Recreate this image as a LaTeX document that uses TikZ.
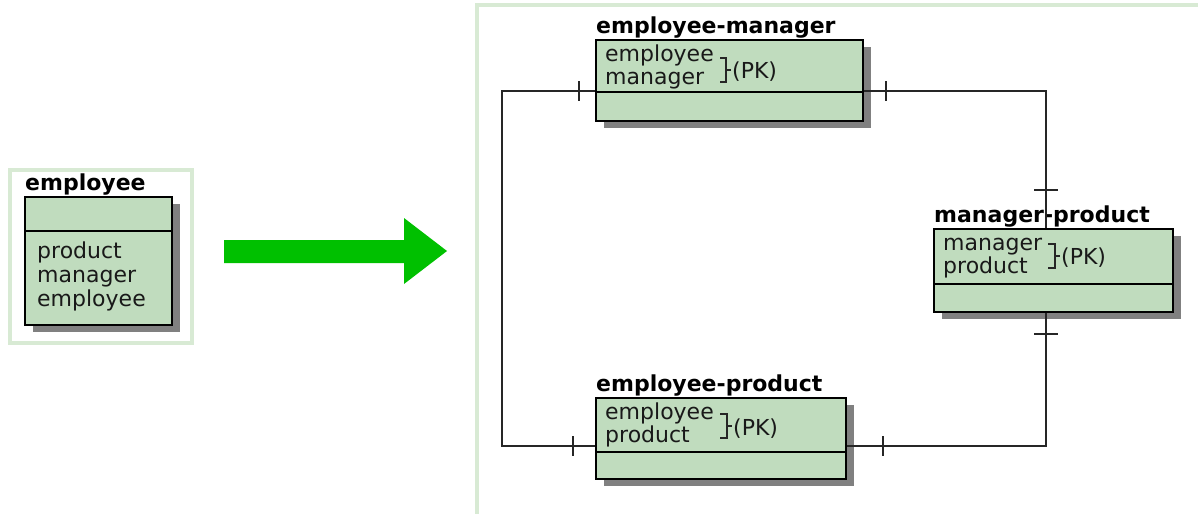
\documentclass[tikz,border=0pt]{standalone}
\usepackage{fontspec}
\setmainfont{DejaVu Sans}
\usetikzlibrary{shadows}

\definecolor{boxgreen}{RGB}{192,220,190}
\definecolor{panelgreen}{RGB}{216,234,212}
\definecolor{arrowgreen}{RGB}{0,192,0}

\tikzset{
  entity/.style={draw=black, line width=1.6pt, fill=boxgreen, anchor=north west, inner sep=0pt,
    drop shadow={shadow xshift=8pt, shadow yshift=-7pt, fill=black!50, opacity=1}},
  title/.style={anchor=base west, inner sep=0pt, font=\fontsize{22}{26}\selectfont\bfseries},
  attr/.style={anchor=base west, inner sep=0pt, font=\fontsize{22}{26}\selectfont, text=black!90},
  divider/.style={line width=1.4pt},
  link/.style={line width=1.2pt, black!85},
  panel/.style={draw=panelgreen, line width=3.5pt}
}

\begin{document}
\begin{tikzpicture}[x=1pt,y=-1pt]
\useasboundingbox (0,0) rectangle (1198,514);

% frames
\draw[panel] (10,170) rectangle (192,343);
\draw[panel] (1198,5) -- (477,5) -- (477,514);

% the big arrow
\fill[arrowgreen] (224,240) -- (404,240) -- (404,218) -- (447,251) -- (404,284) -- (404,263) -- (224,263) -- cycle;

% employee
\node[entity, minimum width=147pt, minimum height=128pt] (emp) at (24,196) {};
\node[title] (empt) at (25,190) {employee};
\draw[divider] ([yshift=-35pt]emp.north west) -- ([yshift=-35pt]emp.north east);
\node[attr] (empa) at (37,258) {product};
\node[attr] (empb) at (37,282) {manager};
\node[attr] (empc) at (37,306) {employee};

% employee-manager
\node[entity, minimum width=267pt, minimum height=81pt] (em) at (595,39) {};
\node[title] (emt) at (596,33) {employee-manager};
\draw[divider] ([yshift=-53pt]em.north west) -- ([yshift=-53pt]em.north east);
\node[attr] (ema) at (605,61) {employee};
\node[attr] (emb) at (605,84) {manager};
\draw[link] (720,58) -- (726,58) -- (726,82) -- (720,82) (726,70) -- (731,70);
\node[attr] (emk) at (732,78) {(PK)};

% manager-product
\node[entity, minimum width=239pt, minimum height=83pt] (mp) at (933,228) {};
\node[title] (mpt) at (934,222) {manager-product};
\draw[divider] ([yshift=-56pt]mp.north west) -- ([yshift=-56pt]mp.north east);
\node[attr] (mpa) at (943,250) {manager};
\node[attr] (mpb) at (943,273) {product};
\draw[link] (1048,244) -- (1055,244) -- (1055,268) -- (1048,268) (1055,256) -- (1060,256);
\node[attr] (mpk) at (1061,264) {(PK)};

% employee-product
\node[entity, minimum width=250pt, minimum height=81pt] (ep) at (595,397) {};
\node[title] (ept) at (596,391) {employee-product};
\draw[divider] ([yshift=-55pt]ep.north west) -- ([yshift=-55pt]ep.north east);
\node[attr] (epa) at (605,419) {employee};
\node[attr] (epb) at (605,442) {product};
\draw[link] (720,414) -- (727,414) -- (727,438) -- (720,438) (727,426) -- (732,426);
\node[attr] (epk) at (733,435) {(PK)};

% relationships
\draw[link] (em.north west |- 0,91) -| (502,446) -- (ep.north west |- 0,446);
\draw[link] (em.north east |- 0,91) -| (1046,0 |- mp.north);
\draw[link] (1046,0 |- mp.south) |- (ep.north east |- 0,446);

% one-to-one ticks
\draw[link] (579,81) -- (579,101);
\draw[link] (573,436) -- (573,456);
\draw[link] (886,81) -- (886,101);
\draw[link] (883,436) -- (883,456);
\draw[link] (1034,190) -- (1058,190);
\draw[link] (1034,334) -- (1058,334);
\end{tikzpicture}
\end{document}
